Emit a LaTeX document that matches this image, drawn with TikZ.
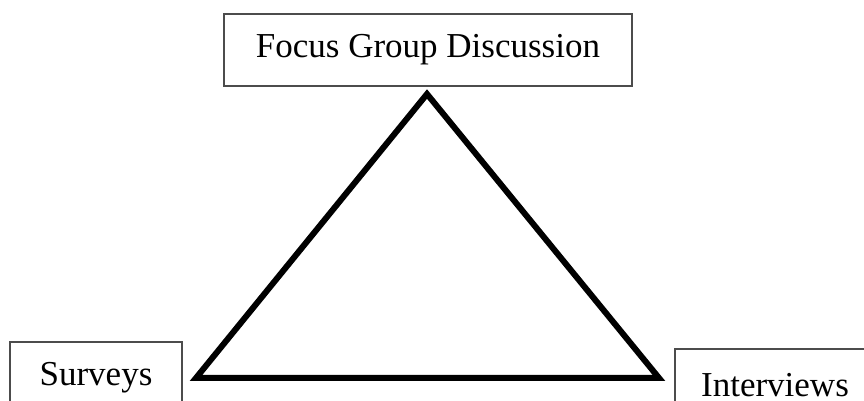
\documentclass[tikz,border=0pt]{standalone}
\usepackage{fontspec}
\setmainfont{Liberation Serif}

\begin{document}
\begin{tikzpicture}[x=0.5pt, y=-0.5pt, line join=miter]

    \tikzset{
      method/.style={
        draw=black!70, line width=0.6pt, rectangle,
        minimum height=36pt, inner sep=0pt, font=\fontsize{17.5}{20}\selectfont
      }
    }

    \useasboundingbox (0,0) rectangle (864,401);

    % the three methods
    \node[method, minimum width=204pt] (fgd) at (428,50) {Focus Group Discussion};
    \node[method, minimum width=86pt] (surveys) at (96,378) {Surveys};
    \node[method, minimum width=100pt] (interviews) at (775,385) {Interviews};

    % triangle between them
    \coordinate (top) at (427,94);
    \coordinate (left) at (196,378);
    \coordinate (right) at (659,378);
    \draw[black, line width=3pt] (top) -- (right) -- (left) -- cycle;

\end{tikzpicture}
\end{document}
